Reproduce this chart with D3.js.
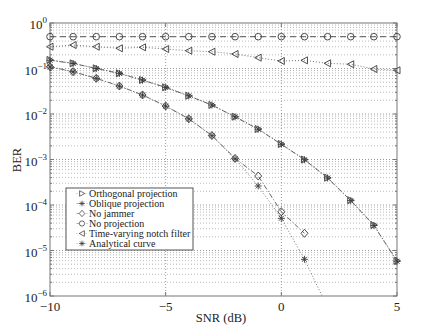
<!DOCTYPE html>
<html>
<head>
<meta charset="utf-8">
<script src="https://cdn.jsdelivr.net/npm/d3@7"></script>
<style>
  body { margin: 0; background: #fff; }
  svg { display: block; }
  text { font-family: "Liberation Serif", "Times New Roman", serif; fill: #222; }
</style>
</head>
<body>
<svg id="chart" width="426" height="332"></svg>
<script>
// SNR axis values (dB)
const snr = [-10, -9, -8, -7, -6, -5, -4, -3, -2, -1, 0, 1, 2, 3, 4, 5];

// BER per SNR for each receiver
const noProjection = [0.5, 0.5, 0.5, 0.5, 0.5, 0.5, 0.5, 0.5, 0.5, 0.5, 0.5, 0.5, 0.5, 0.5, 0.5, 0.5];
const notchFilter = [0.301, 0.328, 0.301, 0.278, 0.292, 0.268, 0.246, 0.234, 0.208, 0.173, 0.146, 0.151, 0.130, 0.124, 0.0975, 0.0913];
const orthogonal = [0.154, 0.130, 0.101, 0.0785, 0.0559, 0.0386, 0.0252, 0.0158, 0.00873, 0.00468, 0.00219, 0.00100, 0.000398, 0.000127, 3.63e-5, 5.9e-6];
const oblique = [0.152, 0.129, 0.100, 0.0780, 0.0555, 0.0383, 0.0250, 0.0157, 0.00866, 0.00463, 0.00216, 0.00099, 0.000392, 0.000125, 3.55e-5, 5.8e-6];

// No-jammer reference and the analytical curve cover a shorter SNR span
const snrNoJammer = [-10, -9, -8, -7, -6, -5, -4, -3, -2, -1, 0, 1];
const noJammer = [0.1096, 0.0851, 0.0609, 0.0412, 0.0262, 0.0150, 0.00785, 0.00337, 0.00106, 0.000434, 7.1e-5, 2.39e-5];
const snrAnalytical = [-10, -9, -8, -7, -6, -5, -4, -3, -2, -1, 0, 1, 2];
const analytical = [0.108, 0.0845, 0.0605, 0.0410, 0.0260, 0.0149, 0.00780, 0.00333, 0.00104, 0.000262, 5.1e-5, 6.4e-6, 5.6e-7];

// Axis tick values
const xTicks = [-10, -5, 0, 5];
const xTickLabels = ["\u221210", "\u22125", "0", "5"];
const yExponents = [0, -1, -2, -3, -4, -5, -6];

const svg = d3.select("#chart");
const plotLeft = 50, plotRight = 397, plotTop = 23, plotBottom = 296;

const x = d3.scaleLinear().domain([-10, 5]).range([plotLeft, plotRight]);
const y = d3.scaleLog().domain([1e-6, 1]).range([plotBottom, plotTop]);

svg.append("defs").append("clipPath").attr("id", "plotClip")
  .append("rect").attr("x", plotLeft).attr("y", plotTop)
  .attr("width", plotRight - plotLeft).attr("height", plotBottom - plotTop);

// grid: minor decades then major
const grid = svg.append("g").attr("stroke", "#a8a8a8").attr("stroke-width", 0.8)
  .attr("stroke-dasharray", "1,2").attr("fill", "none");
const minorVals = [];
yExponents.forEach(e => {
  if (e === 0) return;
  for (let k = 2; k <= 9; k++) minorVals.push(k * Math.pow(10, e));
});
grid.selectAll("line.minor").data(minorVals).join("line")
  .attr("x1", plotLeft).attr("x2", plotRight)
  .attr("y1", d => y(d)).attr("y2", d => y(d));
grid.append("g").selectAll("line").data(yExponents.slice(1, -1)).join("line")
  .attr("stroke", "#808080")
  .attr("x1", plotLeft).attr("x2", plotRight)
  .attr("y1", d => y(Math.pow(10, d))).attr("y2", d => y(Math.pow(10, d)));
grid.append("g").selectAll("line").data(xTicks.slice(1, -1)).join("line")
  .attr("stroke", "#808080")
  .attr("y1", plotTop).attr("y2", plotBottom)
  .attr("x1", d => x(d)).attr("x2", d => x(d));

// frame and inward ticks
const frame = svg.append("g").attr("stroke", "#777").attr("fill", "none").attr("stroke-width", 1);
frame.append("rect").attr("x", plotLeft).attr("y", plotTop)
  .attr("width", plotRight - plotLeft).attr("height", plotBottom - plotTop);
xTicks.forEach(v => {
  frame.append("line").attr("x1", x(v)).attr("x2", x(v)).attr("y1", plotBottom).attr("y2", plotBottom - 4);
  frame.append("line").attr("x1", x(v)).attr("x2", x(v)).attr("y1", plotTop).attr("y2", plotTop + 4);
});
yExponents.forEach(e => {
  const yy = y(Math.pow(10, e));
  frame.append("line").attr("x1", plotLeft).attr("x2", plotLeft + 4).attr("y1", yy).attr("y2", yy);
  frame.append("line").attr("x1", plotRight).attr("x2", plotRight - 4).attr("y1", yy).attr("y2", yy);
});
minorVals.forEach(v => {
  const yy = y(v);
  frame.append("line").attr("x1", plotLeft).attr("x2", plotLeft + 2).attr("y1", yy).attr("y2", yy);
  frame.append("line").attr("x1", plotRight).attr("x2", plotRight - 2).attr("y1", yy).attr("y2", yy);
});

// tick labels
svg.append("g").selectAll("text").data(xTicks).join("text")
  .attr("x", d => x(d)).attr("y", 311).attr("text-anchor", "middle")
  .attr("font-size", 13).text((d, i) => xTickLabels[i]);

const yl = svg.append("g").selectAll("text").data(yExponents).join("text")
  .attr("x", 47).attr("y", d => y(Math.pow(10, d)) + 6).attr("text-anchor", "end")
  .attr("font-size", 13);
yl.append("tspan").text("10");
yl.append("tspan").attr("font-size", 9).attr("dy", -6)
  .text(d => d === 0 ? "0" : "\u2212" + Math.abs(d));

svg.append("text").attr("x", 221).attr("y", 322).attr("text-anchor", "middle")
  .attr("font-size", 12.5).text("SNR (dB)");
svg.append("text").attr("transform", "translate(21,160) rotate(-90)")
  .attr("text-anchor", "middle").attr("font-size", 12.5).text("BER");

// marker shapes
const markers = {
  triRight: "M-3,-3.5L3.5,0L-3,3.5Z",
  triLeft: "M3,-3.5L-3.5,0L3,3.5Z",
  circle: "M3.3,0A3.3,3.3 0 1,1 -3.3,0A3.3,3.3 0 1,1 3.3,0Z",
  diamond: "M0,-4L3.5,0L0,4L-3.5,0Z",
  star: "M-3.5,0H3.5M0,-3.5V3.5M-2.5,-2.5L2.5,2.5M-2.5,2.5L2.5,-2.5"
};

const series = [
  { name: "Orthogonal projection", xs: snr, ys: orthogonal, marker: "triRight", dash: "1,2", color: "#666" },
  { name: "Oblique projection", xs: snr, ys: oblique, marker: "star", dash: "5,2,1,2", color: "#666" },
  { name: "No jammer", xs: snrNoJammer, ys: noJammer, marker: "diamond", dash: "5,2,1,2", color: "#666" },
  { name: "No projection", xs: snr, ys: noProjection, marker: "circle", dash: "6,4", color: "#555" },
  { name: "Time-varying notch filter", xs: snr, ys: notchFilter, marker: "triLeft", dash: "1,2", color: "#777" },
  { name: "Analytical curve", xs: snrAnalytical, ys: analytical, marker: "star", dash: "1,2", color: "#777" }
];

const line = d3.line().x(d => x(d[0])).y(d => y(d[1]));
const plot = svg.append("g");
series.forEach(s => {
  const pts = s.xs.map((v, i) => [v, s.ys[i]]);
  plot.append("path").attr("d", line(pts)).attr("clip-path", "url(#plotClip)")
    .attr("fill", "none").attr("stroke", s.color).attr("stroke-width", 1)
    .attr("stroke-dasharray", s.dash);
  plot.append("g").selectAll("path").data(pts.filter(p => p[1] >= 1e-6)).join("path")
    .attr("transform", p => `translate(${x(p[0])},${y(p[1])})`)
    .attr("d", markers[s.marker])
    .attr("fill", "none").attr("stroke", "#3a3a3a").attr("stroke-width", 0.9);
});

// legend
const lg = svg.append("g");
lg.append("rect").attr("x", 66).attr("y", 188).attr("width", 127).attr("height", 62)
  .attr("fill", "#fff").attr("stroke", "#555").attr("stroke-width", 1);
series.forEach((s, i) => {
  const cy = 193.5 + i * 10;
  lg.append("line").attr("x1", 76.5).attr("x2", 87.5).attr("y1", cy).attr("y2", cy)
    .attr("stroke", "#999").attr("stroke-width", 0.8).attr("stroke-dasharray", s.dash);
  lg.append("path").attr("transform", `translate(82,${cy}) scale(0.8)`).attr("d", markers[s.marker])
    .attr("fill", "#fff").attr("stroke", "#333").attr("stroke-width", 0.9);
  lg.append("text").attr("x", 89).attr("y", cy + 3.5).attr("font-size", 10).text(s.name);
});
</script>
</body>
</html>
